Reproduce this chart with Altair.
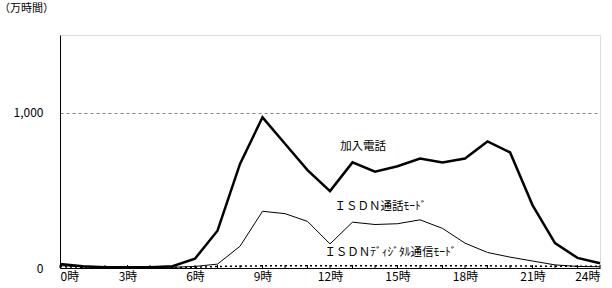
import altair as alt
import pandas as pd

hours = list(range(25))
kanyu = [25, 12, 5, 5, 5, 12, 60, 240, 670, 970, 800, 630, 495, 680, 620, 655, 705, 680, 705, 815, 745, 405, 160, 65, 30]
isdn_voice = [15, 8, 5, 5, 5, 5, 10, 25, 140, 365, 350, 300, 155, 295, 280, 285, 310, 255, 160, 100, 70, 45, 20, 10, 8]
isdn_data = [8, 5, 3, 3, 3, 3, 5, 10, 12, 14, 14, 14, 14, 14, 14, 14, 14, 14, 14, 14, 13, 12, 12, 12, 12]

series_names = ["加入電話", "ＩＳＤＮ通話ﾓｰﾄﾞ", "ＩＳＤＮﾃﾞｨｼﾞﾀﾙ通信ﾓｰﾄﾞ"]
label_hour = [12.45, 12.2, 11.75]
label_value = [780, 390, 95]
x_ticks = [0, 3, 6, 9, 12, 15, 18, 21, 24]
y_ticks = [0, 1000]

FONT = "Noto Sans CJK JP"
W, H = 540, 233

rows = []
for name, vals in zip(series_names, [kanyu, isdn_voice, isdn_data]):
    for h, v in zip(hours, vals):
        rows.append({"hour": h, "value": v, "series": name})
df = pd.DataFrame(rows)
labels_df = pd.DataFrame({"hour": label_hour, "value": label_value, "text": series_names})
ticks_df = pd.DataFrame({"hour": hours})

xscale = alt.Scale(domain=[0, 24], nice=False)
yscale = alt.Scale(domain=[0, 1500], nice=False)

xaxis = alt.Axis(values=x_ticks, labelExpr="datum.value + '時'", tickSize=0, domainColor="black",
                 labelFont=FONT, labelFontSize=12, labelColor="black", labelPadding=3, grid=False, title=None)
yaxis = alt.Axis(values=y_ticks, format=",d", tickSize=0, domainColor="black", labelFont=FONT,
                 labelFontSize=12, labelColor="black", labelPadding=17, grid=True, gridDash=[3, 3],
                 gridColor="#808080", title=None)

def line(name, width, dash=None):
    kw = dict(color="black", strokeWidth=width)
    if dash:
        kw["strokeDash"] = dash
    return alt.Chart(df).transform_filter(alt.datum.series == name).mark_line(**kw).encode(
        x=alt.X("hour:Q", scale=xscale, axis=xaxis),
        y=alt.Y("value:Q", scale=yscale, axis=yaxis),
    )

l1 = line(series_names[0], 2.5)
l2 = line(series_names[1], 1)
l3 = line(series_names[2], 1.5, [2, 3])

ticks = alt.Chart(ticks_df).mark_rule(color="black", strokeWidth=1).encode(
    x=alt.X("hour:Q", scale=xscale),
    y=alt.value(H - 3),
    y2=alt.value(H),
)

labels = alt.Chart(labels_df).mark_text(font=FONT, fontSize=11.5, align="left", baseline="middle", color="black").encode(
    x=alt.X("hour:Q", scale=xscale),
    y=alt.Y("value:Q", scale=yscale),
    text="text:N",
)

unit = alt.Chart(pd.DataFrame({"t": ["（万時間）"]})).mark_text(
    font=FONT, fontSize=11, align="left", baseline="middle", color="black"
).encode(x=alt.value(-61), y=alt.value(-26), text="t:N")

chart = alt.layer(l1, l2, l3, ticks, labels, unit).properties(
    width=W, height=H,
    autosize=alt.AutoSizeParams(type="none"),
    padding={"left": 60, "top": 35, "right": 12, "bottom": 20},
).configure_view(stroke="#808080", strokeWidth=1).configure(background="white")

chart.save("out.html", embed_options={"renderer": "svg", "actions": False})
